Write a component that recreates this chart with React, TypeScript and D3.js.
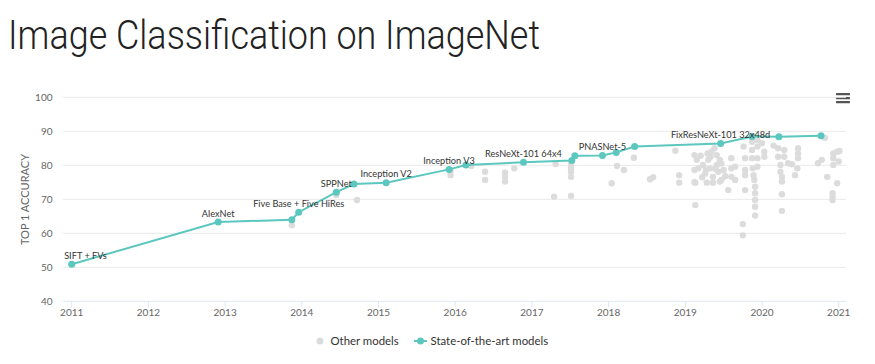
import React from "react";
import * as d3 from "d3";

const TITLE = "Image Classification on ImageNet";
const Y_TICKS = [40, 50, 60, 70, 80, 90, 100];
const X_TICKS = [2011, 2012, 2013, 2014, 2015, 2016, 2017, 2018, 2019, 2020, 2021];

const SOTA_YEARS = [2011.0, 2012.91, 2013.87, 2013.96, 2014.45, 2014.68, 2015.1, 2015.92, 2016.14, 2016.89, 2017.52, 2017.56, 2017.92, 2018.1, 2018.34, 2019.46, 2019.87, 2020.22, 2020.77];
const SOTA_VALUES = [50.9, 63.3, 64.0, 66.2, 72.1, 74.5, 74.9, 78.8, 80.1, 80.9, 81.4, 82.8, 82.9, 83.8, 85.5, 86.4, 88.5, 88.4, 88.7];
const SOTA_LABELS = ["SIFT + FVs", "AlexNet", "", "Five Base + Five HiRes", "SPPNet", "", "Inception V2", "Inception V3", "", "ResNeXt-101 64x4", "", "", "PNASNet-5", "", "", "FixResNeXt-101 32x48d", "", "", ""];

const OTHER_YEARS = [
  2013.87, 2014.45, 2014.72, 2015.94, 2015.94, 2016.21, 2016.39, 2016.39, 2016.65, 2016.65, 2016.65, 2016.77,
  2017.31, 2017.29, 2017.51, 2017.51, 2017.51, 2017.51, 2017.51, 2018.33, 2018.11, 2018.2, 2018.04, 2018.54,
  2018.58, 2018.87, 2018.92, 2018.92, 2019.13, 2019.13, 2019.12, 2019.12, 2019.12,
  2019.17, 2019.15, 2019.2, 2019.23, 2019.26, 2019.3, 2019.32, 2019.34, 2019.36, 2019.41, 2019.41, 2019.43,
  2019.45, 2019.47, 2019.5, 2019.28, 2019.36, 2019.45, 2019.38, 2019.27, 2019.33, 2019.39, 2019.47, 2019.22,
  2019.29, 2019.52, 2019.56, 2019.6, 2019.6, 2019.6, 2019.65, 2019.65, 2019.76, 2019.78, 2019.78, 2019.75,
  2019.78, 2019.78, 2019.87, 2019.87, 2019.87, 2019.88, 2019.89, 2019.9, 2019.91, 2019.91, 2019.91, 2019.91,
  2019.91, 2019.75, 2019.94, 2019.94, 2019.94, 2019.94, 2020.03, 2020.03, 2020.0, 2020.15, 2020.21, 2020.21,
  2020.24, 2020.24, 2020.26, 2020.26, 2020.26, 2020.26, 2020.29, 2020.29, 2020.34, 2020.39, 2020.43, 2020.47,
  2020.47, 2020.47, 2020.46, 2020.82, 2020.73, 2020.78, 2020.85, 2020.93, 2020.93, 2020.93, 2020.98, 2021.01,
  2021.0, 2020.92, 2020.92, 2020.92, 2020.98,
];
const OTHER_VALUES = [
  62.4, 71.3, 69.8, 78.4, 77.1, 79.8, 78.1, 75.7, 77.8, 76.6, 75.2, 79.1,
  80.4, 70.8, 80.1, 79.0, 78.1, 76.6, 71.0, 82.2, 79.8, 78.6, 74.7, 75.9,
  76.5, 84.3, 77.1, 74.9, 74.9, 68.3, 83.0, 78.6, 75.0,
  79.1, 81.6, 82.8, 80.1, 77.6, 81.6, 79.1, 84.0, 76.6, 83.0, 80.1, 78.1,
  81.6, 75.7, 78.6, 74.9, 74.9, 75.2, 85.0, 78.8, 82.5, 79.0, 80.5, 76.5,
  83.5, 76.8, 72.7, 82.1, 79.1, 76.6, 79.6, 75.7, 85.5, 82.1, 72.7, 62.7,
  78.6, 77.1, 86.9, 84.5, 82.1, 79.1, 77.1, 75.7, 73.7, 71.8, 69.8, 67.8,
  65.2, 59.4, 87.4, 85.5, 82.1, 79.6, 84.0, 82.5, 86.5, 85.8, 85.0, 82.5,
  80.1, 78.1, 76.6, 75.2, 71.5, 66.6, 84.5, 82.5, 80.6, 80.3, 77.1, 85.0,
  83.5, 82.1, 79.1, 88.1, 80.6, 81.6, 76.6, 83.5, 82.1, 80.1, 84.0, 84.2,
  81.1, 71.8, 70.8, 69.8, 74.7,
];

const TEAL = "#5cc7be";
const GRAY = "#dcdcdc";
const FONT = "Lato, 'Open Sans', sans-serif";

function measure(text: string, font: string): number {
  if (typeof document === "undefined") return text.length * 5;
  const c = document.createElement("canvas");
  const ctx = c.getContext("2d");
  if (!ctx) return text.length * 5;
  ctx.font = font;
  return ctx.measureText(text).width;
}

export default function App() {
  const W = 875, H = 364;
  const plotLeft = 63, plotRight = 846;
  const x = d3.scaleLinear().domain([2011, 2021]).range([71.7, 838.7]);
  const y = d3.scaleLinear().domain([40, 100]).range([301.3, 97.3]);

  const sota = SOTA_YEARS.map((yr, i) => ({ yr, v: SOTA_VALUES[i], label: SOTA_LABELS[i] }));
  const others = OTHER_YEARS.map((yr, i) => ({ yr, v: OTHER_VALUES[i] }));
  const line = d3.line<{ yr: number; v: number }>().x(d => x(d.yr)).y(d => y(d.v));

  const LABEL_SIZE = 9.2;
  const labelFont = `${LABEL_SIZE}px ${FONT}`;

  return (
    <svg width={W} height={H} style={{ position: "absolute", left: 0, top: 0, background: "#fff" }}>
      <text x={8} y={49} fontFamily="Roboto, 'Open Sans', sans-serif" fontWeight={300} fontSize={41} fill="#222" textLength={532} lengthAdjust="spacingAndGlyphs">{TITLE}</text>

      {/* menu icon */}
      {[0, 1, 2].map(i => (
        <rect key={i} x={836} y={93 + i * 4} width={14} height={2.2} fill="#555" rx={0.5} />
      ))}

      {/* grid */}
      {Y_TICKS.map(t => (
        <line key={t} x1={plotLeft} x2={plotRight} y1={y(t)} y2={y(t)} stroke={t === 40 ? "#dfe5f0" : "#e9e9e9"} strokeWidth={1} />
      ))}
      {Y_TICKS.map(t => (
        <text key={"yl" + t} x={52.5} y={y(t)} dy="0.35em" textAnchor="end" fontFamily={FONT} fontSize={10} fill="#666">{t}</text>
      ))}
      {X_TICKS.map(t => (
        <g key={"xt" + t}>
          <line x1={x(t)} x2={x(t)} y1={y(40)} y2={y(40) + 6} stroke="#dfe5f0" />
          <text x={x(t)} y={316} textAnchor="middle" fontFamily={FONT} fontSize={10} fill="#666">{t}</text>
        </g>
      ))}
      <text transform={`translate(29,199.5) rotate(-90)`} textAnchor="middle" fontFamily={FONT} fontSize={11} fill="#666">TOP 1 ACCURACY</text>

      {/* other models */}
      {others.map((d, i) => (
        <circle key={"o" + i} cx={x(d.yr)} cy={y(d.v)} r={3.2} fill={GRAY} />
      ))}

      {/* sota */}
      <path d={line(sota) || ""} fill="none" stroke={TEAL} strokeWidth={2} />
      {sota.map((d, i) => (
        <circle key={"s" + i} cx={x(d.yr)} cy={y(d.v)} r={3.5} fill={TEAL} />
      ))}
      {sota.filter(d => d.label).map((d, i) => {
        const w = measure(d.label, labelFont);
        let cx = x(d.yr);
        if (cx - w / 2 < plotLeft + 1) cx = plotLeft + 1 + w / 2;
        if (cx + w / 2 > plotRight) cx = plotRight - w / 2;
        return (
          <text key={"l" + i} x={cx} y={y(d.v) - 5.5} textAnchor="middle" fontFamily={FONT} fontSize={LABEL_SIZE} fill="#333">{d.label}</text>
        );
      })}

      {/* legend */}
      <circle cx={320} cy={341} r={3.5} fill={GRAY} />
      <text x={330.5} y={345} fontFamily={FONT} fontSize={11.4} fill="#333">Other models</text>
      <line x1={414} x2={427} y1={341} y2={341} stroke={TEAL} strokeWidth={2} />
      <circle cx={420.5} cy={341} r={3.5} fill={TEAL} />
      <text x={430.5} y={345} fontFamily={FONT} fontSize={11.4} fill="#333">State-of-the-art models</text>
    </svg>
  );
}
